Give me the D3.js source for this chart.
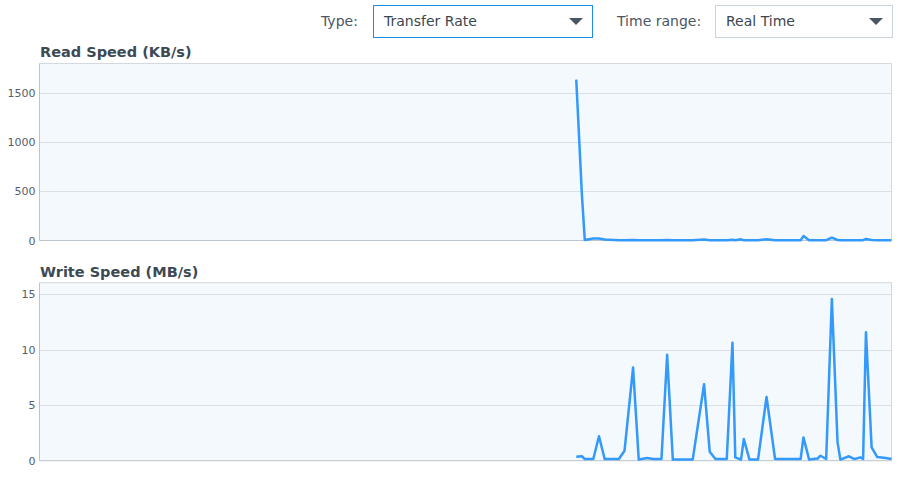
<!DOCTYPE html>
<html>
<head>
<meta charset="utf-8">
<script src="https://cdn.jsdelivr.net/npm/d3@7/dist/d3.min.js"></script>
<style>
  html, body { margin: 0; padding: 0; background: #ffffff; }
  svg { display: block; font-family: "DejaVu Sans", Verdana, sans-serif; }
</style>
</head>
<body>
<svg id="chart" width="898" height="479"></svg>
<script>
// Sample times, in seconds within the 5-minute real-time window
const times = [189, 191, 192, 195, 197, 199, 204, 206, 209, 211, 214, 216, 219, 221, 223, 230,
  234, 236, 238, 242, 244, 245, 247, 248, 250, 253, 256, 259, 263, 268, 269, 271, 274, 275,
  277, 279, 281, 282, 285, 287, 289, 290, 291, 293, 295, 298, 300];

// Read speed, KB/s
const readSpeed = [1640, 460, 5, 20, 20, 10, 3, 3, 5, 3, 3, 3, 3, 5, 3, 3,
  10, 3, 3, 3, 8, 3, 12, 3, 3, 3, 12, 3, 3, 3, 45, 3, 3, 3,
  3, 30, 5, 3, 3, 3, 3, 3, 15, 5, 3, 3, 3];

// Write speed, MB/s
const writeSpeed = [0.35, 0.4, 0.15, 0.15, 2.2, 0.15, 0.15, 0.9, 8.4, 0.1, 0.25, 0.15, 0.15, 9.55, 0.1, 0.1,
  6.9, 0.8, 0.15, 0.15, 10.65, 0.3, 0.1, 1.95, 0.1, 0.1, 5.75, 0.15, 0.15, 0.15, 2.1, 0.1, 0.2, 0.45,
  0.15, 14.6, 1.65, 0.1, 0.4, 0.15, 0.3, 0.15, 11.6, 1.2, 0.33, 0.25, 0.15];

const readTicks = [0, 500, 1000, 1500];
const writeTicks = [0, 5, 10, 15];
const windowSeconds = [0, 300];

const typeOptions = ["Transfer Rate"];
const rangeOptions = ["Real Time"];

const svg = d3.select("#chart");

const plotLeft = 39.5, plotRight = 891.5;
const x = d3.scaleLinear().domain(windowSeconds).range([plotLeft, plotRight]);

// ---- selectors row ----
function selectBox(label, labelX, boxX, boxW, value, borderColor) {
  svg.append("text")
    .attr("x", labelX).attr("y", 26)
    .attr("font-size", 14).attr("fill", "#4b5663")
    .text(label);
  svg.append("rect")
    .attr("x", boxX + 0.5).attr("y", 5.5)
    .attr("width", boxW).attr("height", 32)
    .attr("fill", "#ffffff").attr("stroke", borderColor).attr("stroke-width", 1);
  svg.append("text")
    .attr("x", boxX + 11).attr("y", 26)
    .attr("font-size", 14).attr("fill", "#3b4652")
    .text(value);
  const cx = boxX + boxW - 16, cy = 21.5;
  svg.append("path")
    .attr("d", `M${cx - 7},${cy - 3.5} L${cx + 7},${cy - 3.5} L${cx},${cy + 3.5} Z`)
    .attr("fill", "#4b5663");
}
selectBox("Type:", 321, 373, 219, typeOptions[0], "#1c8ce6");
selectBox("Time range:", 617, 715, 177, rangeOptions[0], "#c9d4de");

// ---- chart panels ----
function panel(title, titleY, top, bottom, values, ticks) {
  const g = svg.append("g");
  const y = d3.scaleLinear()
    .domain([0, d3.max(values) * 1.1])
    .range([bottom, top]);

  g.append("text")
    .attr("x", 40).attr("y", titleY)
    .attr("font-size", 14.5).attr("font-weight", "bold").attr("fill", "#3d4955")
    .text(title);

  g.append("rect")
    .attr("x", plotLeft).attr("y", top)
    .attr("width", plotRight - plotLeft).attr("height", bottom - top)
    .attr("fill", "#f4f9fe");

  // horizontal grid
  g.selectAll("line.grid")
    .data(ticks.filter(t => t > 0))
    .join("line")
    .attr("class", "grid")
    .attr("x1", plotLeft).attr("x2", plotRight)
    .attr("y1", d => Math.round(y(d)) + 0.5).attr("y2", d => Math.round(y(d)) + 0.5)
    .attr("stroke", "#dcdfe3").attr("stroke-width", 1.2);

  // frame
  g.append("line").attr("x1", plotLeft).attr("x2", plotRight)
    .attr("y1", top).attr("y2", top).attr("stroke", "#d3d9df");
  g.append("line").attr("x1", plotRight).attr("x2", plotRight)
    .attr("y1", top).attr("y2", bottom).attr("stroke", "#d3d9df");
  g.append("line").attr("x1", plotLeft).attr("x2", plotLeft)
    .attr("y1", top).attr("y2", bottom).attr("stroke", "#bcc4cc");
  g.append("line").attr("x1", plotLeft).attr("x2", plotRight)
    .attr("y1", bottom).attr("y2", bottom).attr("stroke", "#bcc4cc");

  // y axis labels
  const axis = d3.axisLeft(y).tickValues(ticks).tickSize(0).tickPadding(4)
    .tickFormat(d3.format("d"));
  const ag = g.append("g").attr("transform", `translate(${plotLeft},0)`).call(axis);
  ag.select(".domain").remove();
  ag.selectAll("text")
    .attr("font-size", 11).attr("fill", "#55606b")
    .attr("font-family", "DejaVu Sans, Verdana, sans-serif");

  const line = d3.line()
    .x((d, i) => x(times[i]))
    .y(d => y(d));

  g.append("path")
    .datum(values)
    .attr("d", line)
    .attr("fill", "none")
    .attr("stroke", "#3399fa")
    .attr("stroke-width", 2.5)
    .attr("stroke-linejoin", "round");
}

panel("Read Speed (KB/s)", 57, 63.5, 240.5, readSpeed, readTicks);
panel("Write Speed (MB/s)", 277, 282.7, 460.7, writeSpeed, writeTicks);
</script>
</body>
</html>
